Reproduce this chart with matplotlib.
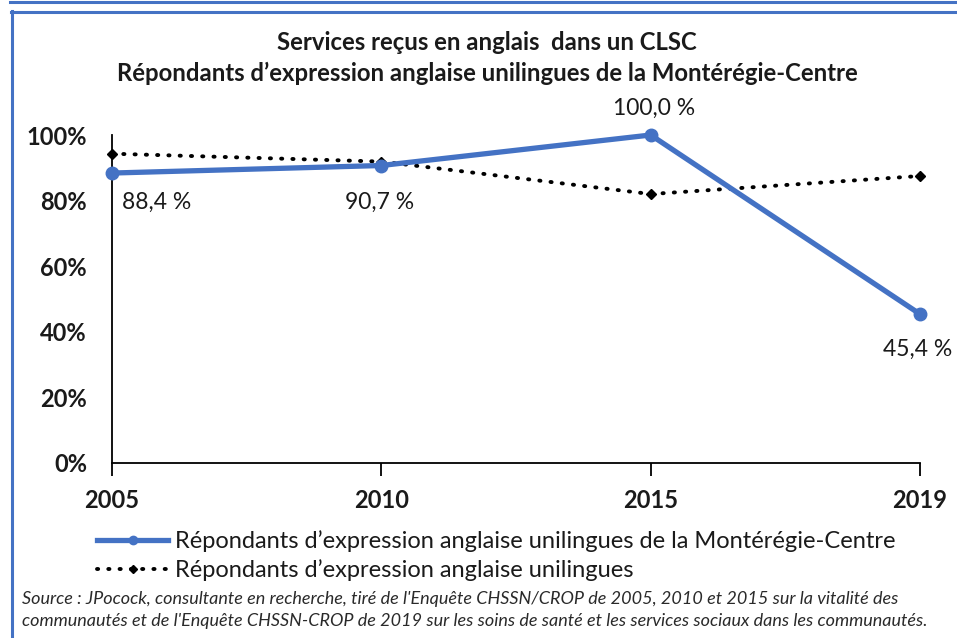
import matplotlib
matplotlib.use("Agg")
import matplotlib.pyplot as plt
from matplotlib.lines import Line2D
from matplotlib.ticker import FuncFormatter

years = ["2005", "2010", "2015", "2019"]
monteregie = [88.4, 90.7, 100.0, 45.4]
monteregie_labels = ["88,4 %", "90,7 %", "100,0 %", "45,4 %"]
unilingues = [94.3, 91.9, 82.0, 87.5]
yticks = [0, 20, 40, 60, 80, 100]

title1 = "Services reçus en anglais  dans un CLSC"
title2 = "Répondants d\u2019expression anglaise unilingues de la Montérégie-Centre"
legend1 = "Répondants d\u2019expression anglaise unilingues de la Montérégie-Centre"
legend2 = "Répondants d\u2019expression anglaise unilingues"
source = ("Source : JPocock, consultante en recherche, tiré de l'Enquête CHSSN/CROP de 2005, 2010 et 2015 sur la vitalité des\n"
          "communautés et de l'Enquête CHSSN-CROP de 2019 sur les soins de santé et les services sociaux dans les communautés.")

plt.rcParams['font.family'] = ['Lato', 'DejaVu Sans']

W, H = 957, 638
fig = plt.figure(figsize=(W / 100, H / 100), dpi=100)

def fx(px):
    return px / W

def fy(py):
    return 1 - py / H

# frame lines
blue = "#4472C4"
fig.add_artist(Line2D([fx(10), 1], [fy(1.5), fy(1.5)], color=blue, lw=2.2))
fig.add_artist(Line2D([fx(11), 1], [fy(11.5), fy(11.5)], color=blue, lw=2.2))
fig.add_artist(Line2D([fx(11.5), fx(11.5)], [fy(11), 0], color=blue, lw=2.2))

ax = fig.add_axes([fx(112), fy(463), fx(920) - fx(112), fy(135) - fy(463)])
x = list(range(len(years)))

dot_style = (0, (0.3, 2.6))
ax.plot(x, unilingues, color="black", lw=2.8, linestyle=dot_style,
        dash_capstyle="round", marker="D", markersize=5.5, clip_on=False, zorder=3)
ax.plot(x, monteregie, color=blue, lw=3.8, marker="o", markersize=9,
        clip_on=False, zorder=4, solid_capstyle="round")

ax.set_xlim(0, 3)
ax.set_ylim(0, 100)
ax.set_xticks(x)
ax.set_xticklabels(years)
ax.set_yticks(yticks)
ax.yaxis.set_major_formatter(FuncFormatter(lambda v, p: f"{int(v)}%"))

for s in ["top", "right"]:
    ax.spines[s].set_visible(False)
for s in ["left", "bottom"]:
    ax.spines[s].set_linewidth(1.3)
    ax.spines[s].set_color("black")

ax.tick_params(axis="x", direction="out", length=9, width=1.3, pad=10,
               labelsize=17)
ax.tick_params(axis="y", length=0, pad=18, labelsize=17)
for t in ax.get_xticklabels() + ax.get_yticklabels():
    t.set_fontweight("bold")
    t.set_color("#1a1a1a")

# data labels
offsets = [(10, -29), (-36, -37), (-38, 27), (-37, -35)]
for i, (dx, dy) in enumerate(offsets):
    ax.annotate(monteregie_labels[i], (x[i], monteregie[i]), xytext=(dx, dy),
                textcoords="offset pixels", ha="left", va="center", fontsize=16.5,
                color="#1a1a1a", annotation_clip=False)

# title
fig.text(fx(487), fy(43), title1, ha="center", va="center", fontsize=17.2,
         fontweight="bold", color="#1a1a1a")
fig.text(fx(487), fy(73), title2, ha="center", va="center", fontsize=17.2,
         fontweight="bold", color="#1a1a1a")

# legend
handles = [
    Line2D([], [], color=blue, lw=3.8, marker="o", markersize=6),
    Line2D([], [], color="black", lw=2.8, linestyle=dot_style,
           dash_capstyle="round", marker="D", markersize=4.5),
]
fig.legend(handles, [legend1, legend2], loc="upper left",
           bbox_to_anchor=(fx(88), fy(521)), frameon=False, fontsize=17,
           handlelength=3.0, handletextpad=0.3, labelspacing=0.3,
           borderaxespad=0, labelcolor="#1a1a1a")

fig.text(fx(22), fy(610), source, ha="left", va="center", fontsize=13.0,
         style="italic", color="#2a2a2a", linespacing=1.45)

fig.savefig("out.png", dpi=100)
